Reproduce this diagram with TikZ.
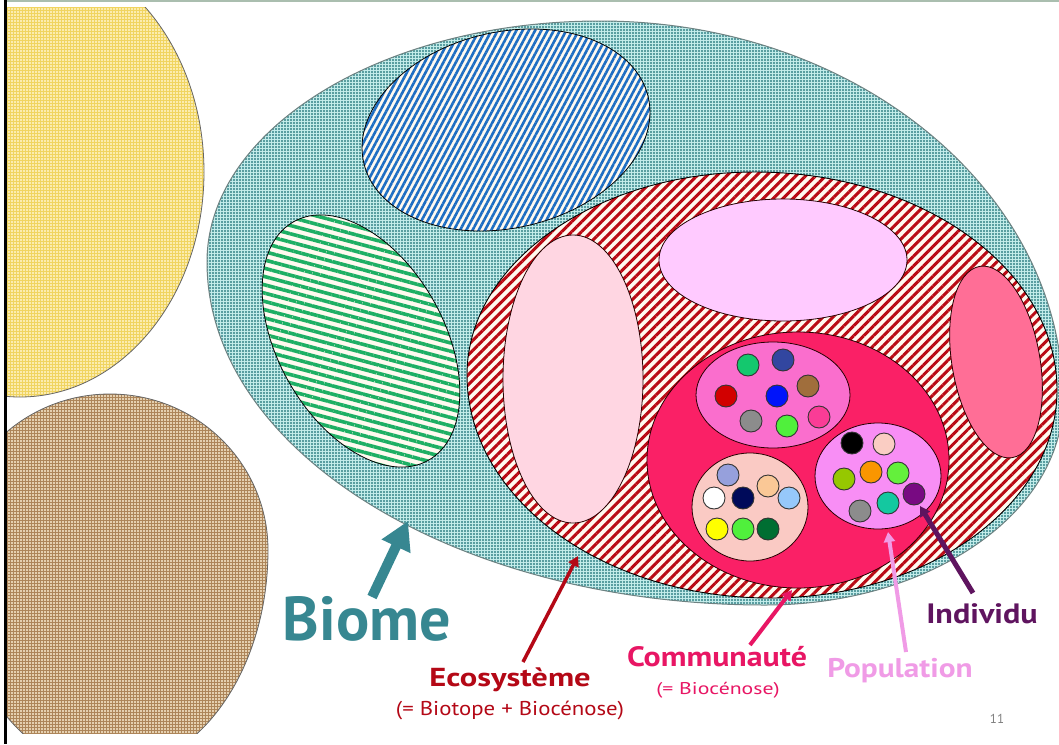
\documentclass[tikz,border=0pt]{standalone}
\usepackage{fontspec}
\setmainfont{PT Sans}
\usetikzlibrary{patterns.meta,arrows.meta}
\definecolor{tealbg}{RGB}{198,238,236}
\definecolor{tealdot}{RGB}{50,130,134}
\definecolor{tealline}{RGB}{110,130,130}
\definecolor{yellowbg}{RGB}{240,212,95}
\definecolor{yellowdot}{RGB}{255,246,205}
\definecolor{brownbg}{RGB}{172,132,88}
\definecolor{browndot}{RGB}{250,236,208}
\definecolor{hatchred}{RGB}{185,10,20}
\definecolor{hatchbg}{RGB}{255,250,240}
\definecolor{hatchblue}{RGB}{30,110,195}
\definecolor{hatchgreen}{RGB}{30,175,100}
\definecolor{palepink}{RGB}{255,214,226}
\definecolor{lavender}{RGB}{255,202,255}
\definecolor{rosepink}{RGB}{255,110,150}
\definecolor{commfill}{RGB}{250,32,102}
\definecolor{popA}{RGB}{250,110,205}
\definecolor{popB}{RGB}{250,202,196}
\definecolor{popC}{RGB}{248,142,245}
\definecolor{biomecol}{RGB}{55,135,145}
\definecolor{ecocol}{RGB}{180,8,22}
\definecolor{commcol}{RGB}{232,22,100}
\definecolor{popcol}{RGB}{240,155,230}
\definecolor{indcol}{RGB}{95,20,95}
\definecolor{framegreen}{RGB}{170,190,175}
\begin{document}
\begin{tikzpicture}[x=1pt,y=-1pt,
  outl/.style={draw=black!85!red, line width=0.8pt},
  indiv/.style={outl, draw=black!80, line width=0.9pt},
  label/.style={inner sep=0pt, anchor=center},
  bigtip/.style={-{Triangle[width=30pt,length=28pt]}},
  smalltip/.style={-{Triangle[width=11pt,length=10pt]}}]
\useasboundingbox (0,0) rectangle (1059,744);
\fill[white] (0,0) rectangle (1059,744);
% left shapes, clipped by the slide frame
\begin{scope}
\clip (7,7) rectangle (1059,733);
\fill[yellowbg] (20,172) ellipse [x radius=184, y radius=225];
\fill[pattern={Dots[radius=1.1pt,distance=3pt]}, pattern color=yellowdot] (20,172) ellipse [x radius=184, y radius=225];
\draw[draw=gray!80!black, line width=0.8pt] (20,172) ellipse [x radius=184, y radius=225];
\def\brownpath{(-48,550) arc[start angle=180, end angle=360, x radius=158, y radius=156] arc[start angle=0, end angle=180, x radius=158, y radius=220] -- cycle}
\fill[brownbg] \brownpath;
\fill[pattern={Dots[radius=1.15pt,distance=3pt]}, pattern color=browndot] \brownpath;
\draw[draw=gray!80!black, line width=0.8pt] \brownpath;
\end{scope}
% Biome
\def\biomepath{(207,262) arc[start angle=180, end angle=270, x radius=393, y radius=241] arc[start angle=270, end angle=360, x radius=463, y radius=379] arc[start angle=0, end angle=90, x radius=298, y radius=205] arc[start angle=90, end angle=180, x radius=558, y radius=343] -- cycle}
\fill[tealbg] \biomepath;
\fill[pattern={Dots[radius=1.1pt,distance=3pt]}, pattern color=tealdot] \biomepath;
\draw[tealline, line width=1pt] \biomepath;
% blue ecosystem
\fill[hatchbg, rotate around={13:(506,130)}] (506,130) ellipse [x radius=146, y radius=98];
\fill[pattern={Lines[angle=62,distance=5.5pt,line width=2.6pt]}, pattern color=hatchblue, rotate around={13:(506,130)}] (506,130) ellipse [x radius=146, y radius=98];
\draw[black, line width=0.8pt, rotate around={13:(506,130)}] (506,130) ellipse [x radius=146, y radius=98];
% green ecosystem
\fill[hatchbg, rotate around={29.5:(361,341)}] (361,341) ellipse [x radius=83, y radius=137];
\fill[pattern={Lines[angle=-15,distance=8pt,line width=3.6pt]}, pattern color=hatchgreen, rotate around={29.5:(361,341)}] (361,341) ellipse [x radius=83, y radius=137];
\draw[black, line width=0.8pt, rotate around={29.5:(361,341)}] (361,341) ellipse [x radius=83, y radius=137];
% red ecosystem
\def\ecopath{(467,375) arc[start angle=180, end angle=270, x radius=288, y radius=203] arc[start angle=270, end angle=360, x radius=302, y radius=218] arc[start angle=0, end angle=90, x radius=287, y radius=208] arc[start angle=90, end angle=180, x radius=303, y radius=223] -- cycle}
\fill[hatchbg] \ecopath;
\fill[pattern={Lines[angle=45,distance=7pt,line width=3pt]}, pattern color=hatchred] \ecopath;
\draw[black, line width=0.9pt] \ecopath;
% inner communities of the ecosystem
\draw[outl, fill=palepink] (573,379) ellipse [x radius=70, y radius=144];
\draw[outl, fill=lavender] (783,260) ellipse [x radius=124, y radius=61];
\draw[outl, fill=rosepink, rotate around={9.7:(996,362)}] (996,362) ellipse [x radius=44, y radius=97];
% community
\draw[outl, fill=commfill] (798,460) ellipse [x radius=151, y radius=128];
% populations
\draw[outl, fill=popA] (773,395) ellipse [x radius=77, y radius=53];
\draw[outl, fill=popB] (750,507) ellipse [x radius=58, y radius=54];
\draw[outl, fill=popC] (878,476) ellipse [x radius=63, y radius=53];
% individuals
\foreach \p/\c in {{748,365}/{20,200,110},{783,360}/{50,70,160},{808,386}/{160,110,60},{726,396}/{210,0,0},{777,396}/{0,20,250},{751,421}/{140,140,140},{787,426}/{80,240,60},{819,417}/{250,60,150},
 {852,443}/{0,0,0},{884,444}/{250,205,195},{844,479}/{150,200,0},{871,472}/{250,150,0},{898,473}/{100,240,60},{914,494}/{120,10,130},{860,511}/{140,140,140},{888,503}/{20,200,160},
 {728,475}/{150,160,220},{768,486}/{250,200,150},{714,498}/{255,255,255},{743,498}/{0,10,90},{789,498}/{150,200,250},{717,529}/{255,255,0},{743,529}/{80,240,60},{768,529}/{0,110,50}}{
  \definecolor{tmpc}{RGB}{\c}
  \draw[indiv, fill=tmpc] (\p) circle[radius=11];
}
% frame
\draw[black, line width=3pt] (5.5,0) -- (5.5,744);
\draw[framegreen, line width=2pt] (7,1) -- (1059,1);
% labels
\node[label, text=biomecol, font=\fontsize{62}{62}\selectfont\bfseries] (biome) at (367,619) {Biome};
\node[label, text=ecocol, font=\fontsize{26}{26}\selectfont\bfseries] (eco) at (510,680) {\scalebox{1.25}[1]{Ecosystème}};
\node[label, text=ecocol, font=\fontsize{20}{20}\selectfont] (ecosub) at (510,710) {\scalebox{1.14}[1]{(= Biotope + Biocénose)}};
\node[label, text=commcol, font=\fontsize{28}{28}\selectfont\bfseries] (comm) at (717,657) {\scalebox{1.14}[1]{Communauté}};
\node[label, text=commcol, font=\fontsize{17}{17}\selectfont] (commsub) at (718,690) {\scalebox{1.28}[1]{(= Biocénose)}};
\node[label, text=popcol, font=\fontsize{27}{27}\selectfont\bfseries] (pop) at (900,671) {\scalebox{1.16}[1]{Population}};
\node[label, text=indcol, font=\fontsize{28}{28}\selectfont\bfseries] (ind) at (982,614) {\scalebox{1.15}[1]{Individu}};
\node[label, text=gray, font=\fontsize{13}{13}\selectfont] (pagenum) at (997,719) {11};
% arrow ends
\coordinate (biomeTail) at (372,597);
\coordinate (biomeTip) at (408,521);
\coordinate (ecoTail) at (523,662);
\coordinate (ecoTip) at (578,556);
\coordinate (commTail) at (750,645);
\coordinate (commTip) at (792,590);
\coordinate (popTail) at (906,652);
\coordinate (popTip) at (888,532);
\coordinate (indTail) at (973,593);
\coordinate (indTip) at (920,506);
\draw[bigtip, biomecol, line width=10pt] (biomeTail) -- (biomeTip);
\draw[smalltip, ecocol, line width=3.5pt] (ecoTail) -- (ecoTip);
\draw[smalltip, commcol, line width=4pt] (commTail) -- (commTip);
\draw[smalltip, popcol, line width=4pt] (popTail) -- (popTip);
\draw[smalltip, indcol, line width=5pt] (indTail) -- (indTip);
\end{tikzpicture}
\end{document}
